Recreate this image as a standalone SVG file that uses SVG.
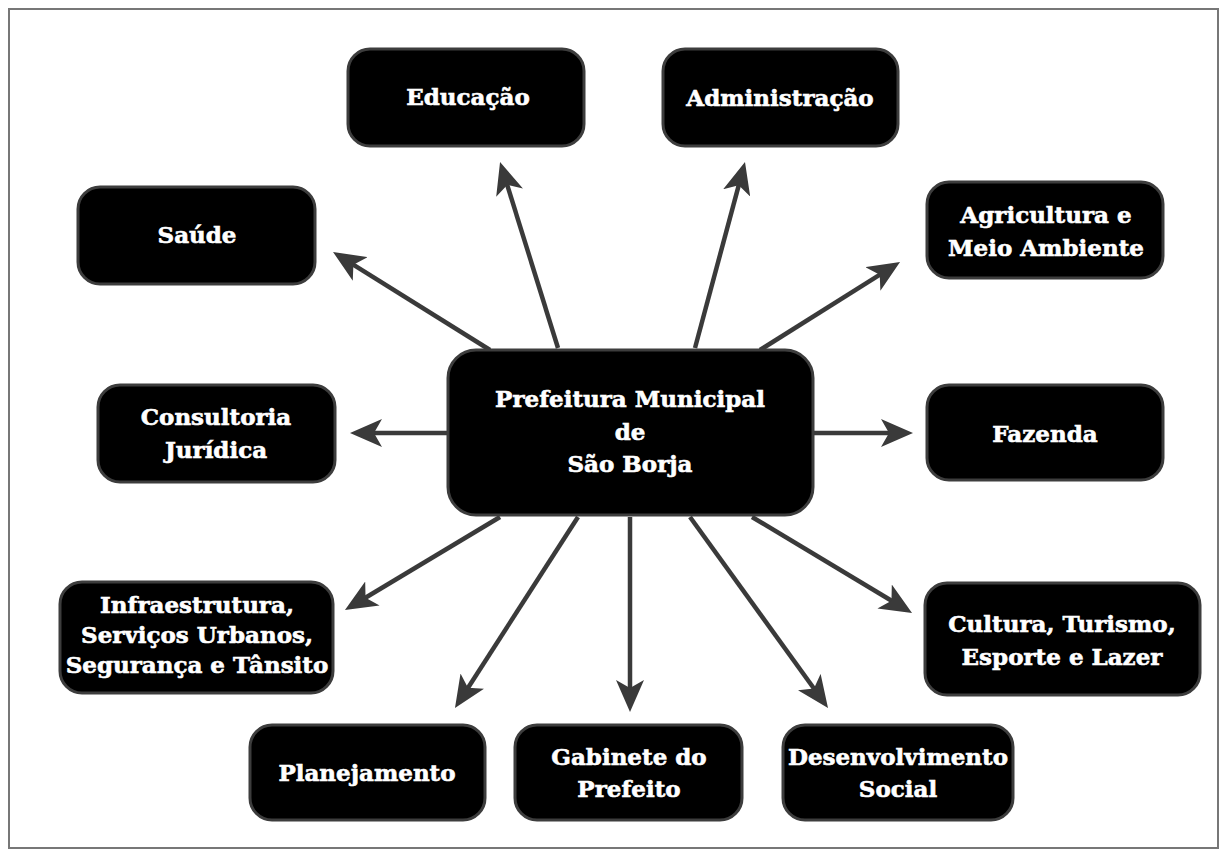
<svg xmlns="http://www.w3.org/2000/svg" width="1227" height="857" viewBox="0 0 1227 857">
<style>
.box{fill:#000;stroke:#3d3d3d;stroke-width:3}
.lbl{fill:#fff;stroke:#fff;stroke-width:0.6;font-family:"DejaVu Serif","Liberation Serif",serif;font-weight:bold;font-size:23px;text-anchor:middle}
.arr{stroke:#3a3a3a;stroke-width:4.5;fill:none;marker-end:url(#ah)}
</style>
<defs>
<marker id="ah" markerUnits="userSpaceOnUse" markerWidth="32" markerHeight="28" viewBox="0 0 32 28" refX="12" refY="14" orient="auto">
<path d="M0,0 L32,14 L0,28 L8,14 z" fill="#3a3a3a"/>
</marker>
</defs>
<rect x="9" y="9" width="1209" height="839" fill="#fff" stroke="#777" stroke-width="2"/>
<g id="connectors">
<line class="arr" x1="490" y1="350" x2="350" y2="262.6"/>
<line class="arr" x1="558" y1="348" x2="506" y2="181.1"/>
<line class="arr" x1="695" y1="348" x2="739.8" y2="181.3"/>
<line class="arr" x1="760" y1="350" x2="883.1" y2="272.6"/>
<line class="arr" x1="470" y1="433" x2="370" y2="433"/>
<line class="arr" x1="790" y1="433" x2="893" y2="433"/>
<line class="arr" x1="500" y1="517" x2="362.1" y2="599.7"/>
<line class="arr" x1="578" y1="517" x2="465.8" y2="691.2"/>
<line class="arr" x1="630" y1="517" x2="630" y2="692"/>
<line class="arr" x1="690" y1="517" x2="816.3" y2="691.8"/>
<line class="arr" x1="752" y1="517" x2="894.9" y2="602.7"/>
</g>
<g id="center">
<rect class="box" x="448" y="350" width="365" height="165" rx="28"/>
<text class="lbl" x="630" y="407">Prefeitura Municipal</text>
<text class="lbl" x="630" y="440">de</text>
<text class="lbl" x="630" y="472">São Borja</text>
</g>
<g id="educacao">
<rect class="box" x="348" y="49" width="236" height="97" rx="22"/>
<text class="lbl" x="468" y="105">Educação</text>
</g>
<g id="administracao">
<rect class="box" x="663" y="49" width="235" height="97" rx="22"/>
<text class="lbl" x="780" y="106">Administração</text>
</g>
<g id="saude">
<rect class="box" x="78" y="187" width="237" height="97" rx="22"/>
<text class="lbl" x="197" y="243">Saúde</text>
</g>
<g id="agricultura">
<rect class="box" x="927" y="182" width="236" height="96" rx="22"/>
<text class="lbl" x="1046" y="223">Agricultura e</text>
<text class="lbl" x="1046" y="256">Meio Ambiente</text>
</g>
<g id="consultoria">
<rect class="box" x="98" y="385" width="237" height="97" rx="22"/>
<text class="lbl" x="216" y="425">Consultoria</text>
<text class="lbl" x="216" y="458">Jurídica</text>
</g>
<g id="fazenda">
<rect class="box" x="927" y="385" width="236" height="95" rx="22"/>
<text class="lbl" x="1045" y="442">Fazenda</text>
</g>
<g id="infraestrutura">
<rect class="box" x="60" y="582" width="273" height="111" rx="22"/>
<text class="lbl" x="197" y="613">Infraestrutura,</text>
<text class="lbl" x="197" y="643">Serviços Urbanos,</text>
<text class="lbl" x="197" y="673">Segurança e Tânsito</text>
</g>
<g id="cultura">
<rect class="box" x="925" y="583" width="275" height="112" rx="22"/>
<text class="lbl" x="1062" y="632">Cultura, Turismo,</text>
<text class="lbl" x="1062" y="665">Esporte e Lazer</text>
</g>
<g id="planejamento">
<rect class="box" x="250" y="725" width="235" height="95" rx="22"/>
<text class="lbl" x="367" y="781">Planejamento</text>
</g>
<g id="gabinete">
<rect class="box" x="515" y="725" width="227" height="95" rx="22"/>
<text class="lbl" x="629" y="765">Gabinete do</text>
<text class="lbl" x="629" y="797">Prefeito</text>
</g>
<g id="desenvolvimento">
<rect class="box" x="783" y="725" width="230" height="95" rx="22"/>
<text class="lbl" x="898" y="765">Desenvolvimento</text>
<text class="lbl" x="898" y="797">Social</text>
</g>
</svg>
